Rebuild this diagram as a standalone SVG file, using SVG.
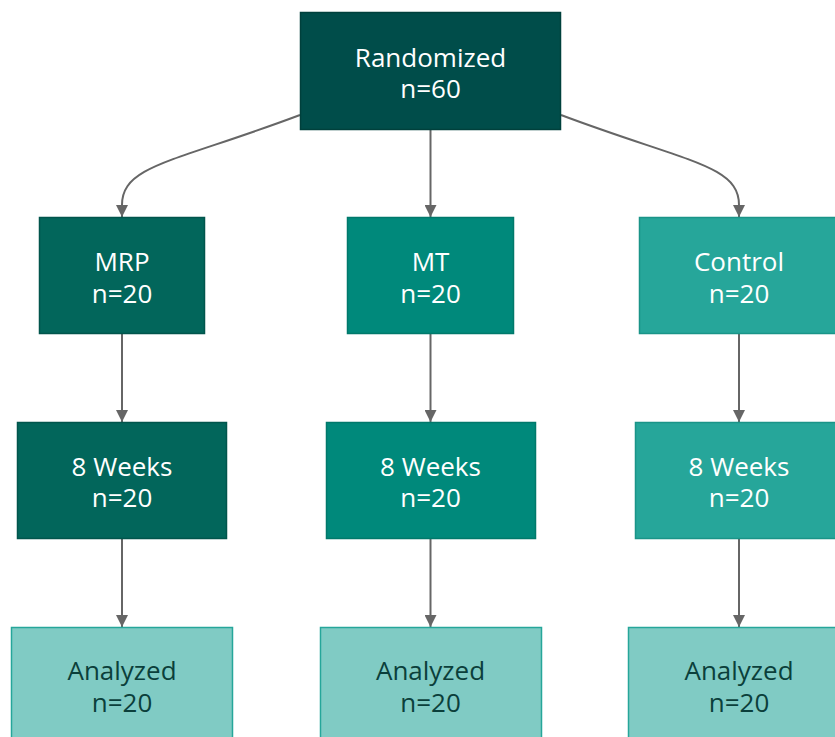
<svg xmlns="http://www.w3.org/2000/svg" width="835" height="737" viewBox="0 0 835 737">
  <style>
    .box { stroke-width: 1.5; }
    .lbl { font-family: "Open Sans", "Noto Sans", "DejaVu Sans", sans-serif; font-size: 26px; text-anchor: middle; }
    .light { fill: #ffffff; }
    .dark { fill: #0b3f3b; }
    .edge { fill: none; stroke: #666666; stroke-width: 2; marker-end: url(#arrow); }
    .lvl0 { fill: #004d4a; stroke: #00403c; }
    .lvl1 { fill: #02665b; stroke: #01554c; }
    .lvl2 { fill: #00897b; stroke: #00796b; }
    .lvl3 { fill: #26a69a; stroke: #1a9488; }
    .lvl4 { fill: #80cbc4; stroke: #26a69a; }
  </style>
  <defs>
    <marker id="arrow" viewBox="0 0 12 12" refX="12" refY="6" markerWidth="12" markerHeight="12" markerUnits="userSpaceOnUse" orient="auto">
      <path d="M0,0 L12,6 L0,12 Z" fill="#666666"/>
    </marker>
  </defs>

  <rect width="835" height="737" fill="#ffffff"/>

  <g id="connectors">
    <path class="edge" d="M300,115 C175,162 122,165 122,205 L122,217"/>
    <path class="edge" d="M430.5,130 L430.5,217"/>
    <path class="edge" d="M561,115 C686,162 739,165 739,205 L739,217"/>
    <path class="edge" d="M122,334 L122,422"/>
    <path class="edge" d="M430.5,334 L430.5,422"/>
    <path class="edge" d="M739,334 L739,422"/>
    <path class="edge" d="M122,539 L122,627"/>
    <path class="edge" d="M430.5,539 L430.5,627"/>
    <path class="edge" d="M739,539 L739,627"/>
  </g>

  <g id="randomized">
    <rect class="box lvl0" x="300.5" y="12.5" width="260" height="117"/>
    <text class="lbl light" x="430.5" y="67">Randomized</text>
    <text class="lbl light" x="430.5" y="98">n=60</text>
  </g>

  <g id="mrp">
    <rect class="box lvl1" x="39.5" y="217.5" width="165" height="116"/>
    <text class="lbl light" x="122" y="271">MRP</text>
    <text class="lbl light" x="122" y="303">n=20</text>
  </g>
  <g id="mt">
    <rect class="box lvl2" x="347.5" y="217.5" width="166" height="116"/>
    <text class="lbl light" x="430.5" y="271">MT</text>
    <text class="lbl light" x="430.5" y="303">n=20</text>
  </g>
  <g id="control">
    <rect class="box lvl3" x="639.5" y="217.5" width="199" height="116"/>
    <text class="lbl light" x="739" y="271">Control</text>
    <text class="lbl light" x="739" y="303">n=20</text>
  </g>

  <g id="mrp-weeks">
    <rect class="box lvl1" x="17.5" y="422.5" width="209" height="116"/>
    <text class="lbl light" x="122" y="476">8 Weeks</text>
    <text class="lbl light" x="122" y="507">n=20</text>
  </g>
  <g id="mt-weeks">
    <rect class="box lvl2" x="326.5" y="422.5" width="209" height="116"/>
    <text class="lbl light" x="430.5" y="476">8 Weeks</text>
    <text class="lbl light" x="430.5" y="507">n=20</text>
  </g>
  <g id="control-weeks">
    <rect class="box lvl3" x="635.5" y="422.5" width="209" height="116"/>
    <text class="lbl light" x="739" y="476">8 Weeks</text>
    <text class="lbl light" x="739" y="507">n=20</text>
  </g>

  <g id="mrp-analyzed">
    <rect class="box lvl4" x="11.5" y="627.5" width="221" height="117"/>
    <text class="lbl dark" x="122" y="680">Analyzed</text>
    <text class="lbl dark" x="122" y="712">n=20</text>
  </g>
  <g id="mt-analyzed">
    <rect class="box lvl4" x="320.5" y="627.5" width="221" height="117"/>
    <text class="lbl dark" x="430.5" y="680">Analyzed</text>
    <text class="lbl dark" x="430.5" y="712">n=20</text>
  </g>
  <g id="control-analyzed">
    <rect class="box lvl4" x="628.5" y="627.5" width="221" height="117"/>
    <text class="lbl dark" x="739" y="680">Analyzed</text>
    <text class="lbl dark" x="739" y="712">n=20</text>
  </g>
</svg>
